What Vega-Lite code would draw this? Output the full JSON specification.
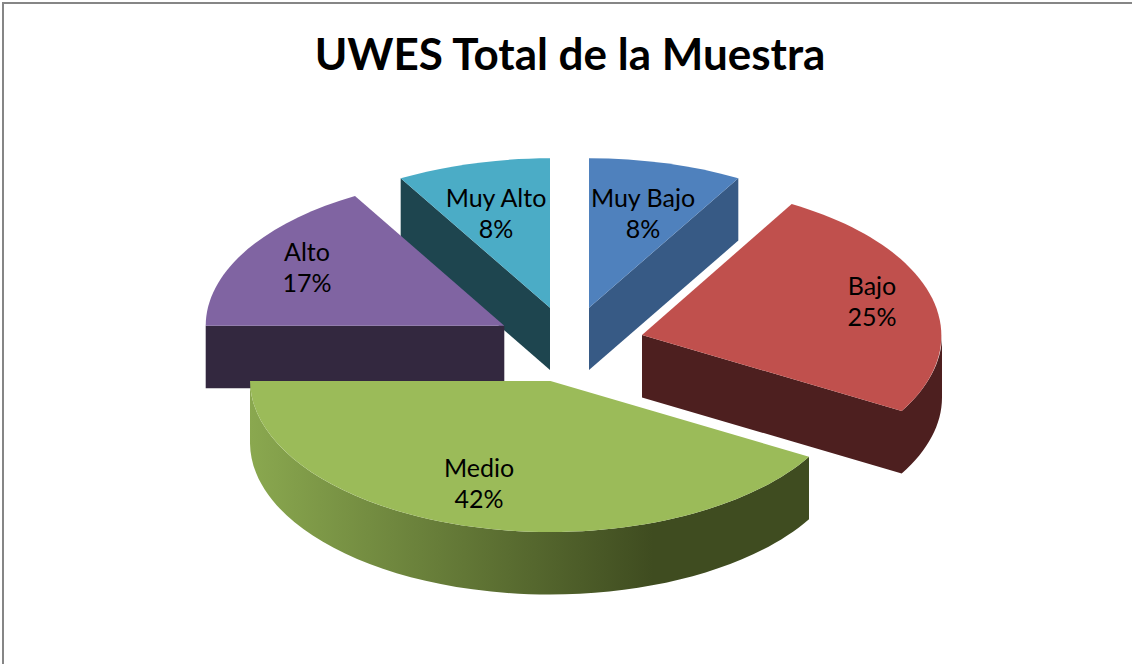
{
"$schema":"https://vega.github.io/schema/vega-lite/v6.json",
"autosize":"none",
"padding":{"left":3,"top":3,"right":0,"bottom":0},
"width":1140,
"height":670,
"background":"#ffffff",
"view":{"stroke":"#868686","strokeWidth":2},
"config":{"view":{"stroke":"#868686","strokeWidth":2},"style":{"cell":{"stroke":"#868686","strokeWidth":2}}},
"title":{"text":"UWES Total de la Muestra","font":"Lato","fontWeight":"bold","fontSize":44,"color":"#000000","anchor":"middle","dx":-3,"dy":80},
"data":{"values":[
{"slice":"Muy Alto","pct":8},
{"slice":"Alto","pct":17},
{"slice":"Muy Bajo","pct":8},
{"slice":"Bajo","pct":25},
{"slice":"Medio","pct":42}
]},
"transform":[{"calculate":"datum.slice + '\\n' + datum.pct + '%'","as":"label"}],
"resolve":{"scale":{"shape":"independent","color":"independent"}},
"layer":[
{"transform":[{"filter":"datum.slice !== 'Medio'"}],
 "mark":{"type":"point","filled":true,"opacity":1,"strokeWidth":0,"size":4},
 "encoding":{
  "shape":{"field":"slice","type":"nominal","legend":null,"scale":{"domain":["Muy Alto","Alto","Muy Bajo","Bajo"],"range":[
   "M-172.3,-159.7 L-23,-30.3 L-23,32 L-172.3,-97.4 Z",
   "M-367.3,-12.3 L-68.7,-12.3 L-68.7,50.3 L-367.3,50.3 Z",
   "M16,-30.3 L165.3,-159.7 L165.3,-97.4 L16,32 Z",
   "M69,-3 L328.7,73 A300,152 0 0 0 369,-3 L369,59.5 A300,152 0 0 1 328.7,135.5 L69,59.5 Z"]}},
  "color":{"field":"slice","type":"nominal","legend":null,"scale":{"domain":["Muy Alto","Alto","Muy Bajo","Bajo"],"range":["#1e454f","#33283f","#375a85","#4d1f1f"]}}
 }},
{"transform":[{"filter":"datum.slice === 'Medio'"}],
 "mark":{"type":"point","filled":true,"opacity":1,"strokeWidth":0,"size":4,
  "fill":{"gradient":"linear","x1":0,"x2":1,"y1":0,"y2":0,"stops":[{"offset":0,"color":"#8aa84f"},{"offset":0.72,"color":"#3f4c20"},{"offset":1,"color":"#3f4c20"}]}},
 "encoding":{
  "shape":{"field":"slice","type":"nominal","legend":null,"scale":{"domain":["Medio"],"range":["M236,118.7 L236,181.2 A300,152 0 0 1 -323,105.5 L-323,43 A300,152 0 0 0 236,118.7 Z"]}}
 }},
{"mark":{"type":"point","filled":true,"opacity":1,"strokeWidth":0,"size":4},
 "encoding":{
  "shape":{"field":"slice","type":"nominal","legend":null,"scale":{"domain":["Muy Alto","Alto","Muy Bajo","Bajo","Medio"],"range":[
   "M-23,-30.3 L-172.3,-159.7 A300,150 0 0 1 -23,-179.7 Z",
   "M-68.7,-12.3 L-367.3,-12.3 A299,150 0 0 1 -218,-142 Z",
   "M16,-30.3 L16,-179.7 A300,150 0 0 1 165.3,-159.7 Z",
   "M69,-3 L218.7,-134 A300,152 0 0 1 328.7,73 Z",
   "M-22.5,43 L236,118.7 A300,152 0 0 1 -323,43 Z"]}},
  "color":{"field":"slice","type":"nominal","legend":null,"scale":{"domain":["Muy Alto","Alto","Muy Bajo","Bajo","Medio"],"range":["#4bacc6","#8064a2","#4f81bd","#c0504d","#9bbb59"]}}
 }},
{"transform":[{"filter":"datum.slice === 'Muy Alto'"}],"mark":{"type":"text","font":"Lato","fontSize":25,"lineBreak":"\n","lineHeight":31,"color":"#000000","dx":-77,"dy":-139},"encoding":{"text":{"field":"label"}}},
{"transform":[{"filter":"datum.slice === 'Alto'"}],"mark":{"type":"text","font":"Lato","fontSize":25,"lineBreak":"\n","lineHeight":31,"color":"#000000","dx":-266,"dy":-85},"encoding":{"text":{"field":"label"}}},
{"transform":[{"filter":"datum.slice === 'Muy Bajo'"}],"mark":{"type":"text","font":"Lato","fontSize":25,"lineBreak":"\n","lineHeight":31,"color":"#000000","dx":70,"dy":-139},"encoding":{"text":{"field":"label"}}},
{"transform":[{"filter":"datum.slice === 'Bajo'"}],"mark":{"type":"text","font":"Lato","fontSize":25,"lineBreak":"\n","lineHeight":31,"color":"#000000","dx":299,"dy":-51},"encoding":{"text":{"field":"label"}}},
{"transform":[{"filter":"datum.slice === 'Medio'"}],"mark":{"type":"text","font":"Lato","fontSize":25,"lineBreak":"\n","lineHeight":31,"color":"#000000","dx":-94,"dy":131},"encoding":{"text":{"field":"label"}}}
]
}
